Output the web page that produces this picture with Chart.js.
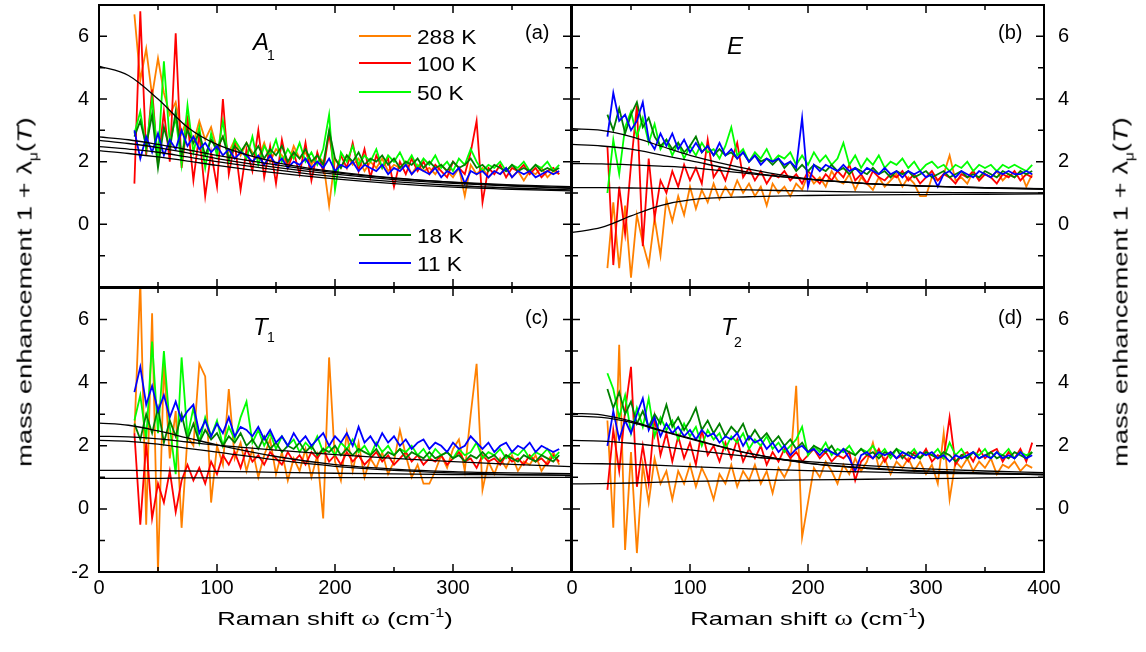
<!DOCTYPE html>
<html>
<head>
<meta charset="utf-8">
<script src="https://cdn.jsdelivr.net/npm/chart.js@4.4.0/dist/chart.umd.min.js"></script>
<style>
body { margin: 0; width: 1146px; height: 652px; overflow: hidden; position: relative; background: #fff;
       font-family: "Liberation Sans", Arial, sans-serif; color: #000; }
canvas { position: absolute; }
.lbl { position: absolute; line-height: 1; white-space: nowrap; }
.key { position: absolute; left: 359px; width: 52px; height: 0; border-top: 2px solid; }
.ktxt { position: absolute; left: 417px; font-size: 21px; line-height: 1; transform: scaleX(1.08); transform-origin: left; }
.xtitle { position: absolute; top: 608px; font-size: 19px; line-height: 1; white-space: nowrap; transform: translateX(-50%) scaleX(1.35); }
.ytitle { position: absolute; font-size: 21px; line-height: 1; white-space: nowrap; transform: translate(-50%, -50%) rotate(-90deg) scaleX(1.3); }
.sup { font-size: 12px; position: relative; top: -8px; }
.mu { font-size: 12px; position: relative; top: 6px; }
.om { font-family: "Liberation Serif", serif; font-size: 21px; }
</style>
</head>
<body>
<canvas id="pa" width="580" height="292" style="left:0;top:0"></canvas>
<canvas id="pb" width="586" height="292" style="left:560px;top:0"></canvas>
<canvas id="pc" width="580" height="372" style="left:0;top:280px"></canvas>
<canvas id="pd" width="586" height="372" style="left:560px;top:280px"></canvas>

<!-- panel names -->
<div class="lbl" style="left:253px;top:30px;font-size:24px;font-style:italic">A</div>
<div class="lbl" style="left:267px;top:48px;font-size:14px">1</div>
<div class="lbl" style="left:727px;top:34px;font-size:24px;font-style:italic">E</div>
<div class="lbl" style="left:253px;top:315px;font-size:24px;font-style:italic">T</div>
<div class="lbl" style="left:267px;top:330px;font-size:14px">1</div>
<div class="lbl" style="left:721px;top:315px;font-size:24px;font-style:italic">T</div>
<div class="lbl" style="left:734px;top:335px;font-size:14px">2</div>
<div class="lbl" style="left:525px;top:22px;font-size:20px">(a)</div>
<div class="lbl" style="left:998px;top:22px;font-size:20px">(b)</div>
<div class="lbl" style="left:525px;top:307px;font-size:20px">(c)</div>
<div class="lbl" style="left:998px;top:307px;font-size:20px">(d)</div>

<!-- axis titles -->
<div class="xtitle" style="left:335px">Raman shift <span class="om">ω</span> (cm<span class="sup">-1</span>)</div>
<div class="xtitle" style="left:808px">Raman shift <span class="om">ω</span> (cm<span class="sup">-1</span>)</div>
<div class="ytitle" style="left:24px;top:292px">mass enhancement 1 + λ<span class="mu">μ</span>(<i>T</i>)</div>
<div class="ytitle" style="left:1120px;top:292px">mass enhancement 1 + λ<span class="mu">μ</span>(<i>T</i>)</div>

<script>
// Raman shift grid of the measured spectra (cm-1)
const omega = [30,35,40,45,50,55,60,65,70,75,80,85,90,95,100,105,110,115,120,125,130,135,140,145,150,155,160,165,170,175,
    180,185,190,195,200,205,210,215,220,225,230,235,240,245,250,255,260,265,270,275,280,285,290,295,300,305,310,315,320,325,
    330,335,340,345,350,355,360,365,370,375,380,385,390];
// grid of the model curves
const fitOmega = [0, 25, 50, 75, 100, 150, 200, 250, 300, 350, 400];

const tempLabels = ["288 K", "100 K", "50 K", "18 K", "11 K"];
const lineColors = ["#ff8000", "#ff0000", "#00ff00", "#008000", "#0000ff"];
const xTickValues = [0, 100, 200, 300, 400];

// (a) A1
const a288 = [6.7,4.6,5.6,4.1,5.3,4.2,3.5,3.9,2.9,3.4, 2.6,3.3,2.7,3.1,2.4,2.8,2.3,2.7,2.2,2.6,
    2.3,2.1,2.6,2.0,2.4,2.2,1.9,2.5,2.1,2.3, 1.9,2.2,2.0,0.6,2.1,1.8,2.2,1.9,2.1,1.7,
    2.0,1.8,2.1,1.7,1.9,1.8,2.0,1.6,1.9,1.7, 1.8,1.6,1.9,1.7,1.5,1.8,0.9,1.9,1.6,1.8,
    1.5,1.7,1.6,1.8,1.5,1.7,1.4,1.7,1.6,1.8, 1.5,1.7,1.6];
const a100 = [1.3,6.8,2.2,4.3,1.9,3.6,2.0,6.1,1.8,3.3, 1.4,2.9,0.9,2.3,1.2,4.0,1.6,2.6,1.1,2.4,
    1.7,3.0,1.5,2.5,1.3,2.7,1.8,2.3,1.6,2.6, 1.4,2.3,1.7,2.9,1.6,2.2,1.8,2.6,1.7,2.4,
    1.5,2.2,1.8,2.1,1.2,2.0,1.6,2.1,1.7,2.0, 1.6,1.9,1.7,1.5,2.0,1.8,1.6,2.3,3.3,0.7,
    1.8,1.6,1.9,1.5,1.8,1.7,1.9,1.6,1.8,1.5, 1.7,1.8,1.6];
const a50 = [2.9,3.6,2.4,4.0,2.1,5.2,2.6,3.4,1.9,3.8, 2.3,3.1,1.8,2.9,2.2,3.3,2.0,2.7,2.4,2.1,
    2.8,1.9,2.5,2.2,2.7,2.0,2.4,2.1,2.6,2.0, 2.3,1.9,2.4,3.5,1.1,2.3,2.0,2.5,1.9,2.2,
    2.0,2.4,1.8,2.2,2.0,2.3,1.9,2.2,1.8,2.1, 1.9,2.2,1.8,2.0,1.7,2.1,1.9,2.4,2.0,1.7,
    1.9,1.8,2.0,1.7,1.9,1.8,2.0,1.7,1.9,1.8, 2.0,1.7,1.9];
const a18 = [2.8,3.3,2.5,3.5,1.8,3.1,2.4,3.6,2.2,3.0, 2.6,2.9,2.2,2.7,2.4,2.8,2.1,2.5,2.3,2.6,
    2.2,2.5,2.1,2.4,2.2,2.5,2.0,2.3,2.1,2.4, 2.0,2.2,1.9,3.0,2.1,1.8,2.2,2.0,2.3,1.9,
    2.1,2.0,2.2,1.9,2.1,1.8,2.0,1.9,2.1,1.8, 2.0,1.8,1.9,1.7,2.0,1.8,1.9,2.1,1.8,1.9,
    1.7,1.9,1.8,1.7,1.9,1.7,1.8,1.7,1.9,1.7, 1.8,1.7,1.8];
const a11 = [3.0,2.1,2.8,2.3,2.9,2.2,2.7,2.4,3.0,2.5, 2.8,2.4,2.6,2.3,2.5,2.2,2.4,2.1,2.3,2.2,
    2.0,2.2,1.9,2.2,1.9,2.1,1.8,2.0,1.9,2.1, 1.8,2.0,1.8,2.1,1.7,1.9,1.8,2.0,1.7,1.9,
    1.8,1.7,1.9,1.6,1.8,1.7,1.9,1.6,1.8,1.7, 1.6,1.8,1.5,1.7,1.6,1.8,1.3,1.7,1.6,1.7,
    1.5,1.7,1.6,1.8,1.5,1.7,1.6,1.7,1.5,1.6, 1.7,1.6,1.7];
const aFits = [
    [5.05,4.75,4.0,3.1,2.55,1.98,1.68,1.48,1.34,1.24,1.16],
    [2.79,2.7,2.55,2.38,2.2,1.9,1.65,1.47,1.35,1.26,1.2],
    [2.68,2.58,2.45,2.28,2.1,1.82,1.6,1.43,1.31,1.22,1.15],
    [2.48,2.4,2.3,2.15,2.0,1.74,1.52,1.36,1.24,1.16,1.1],
    [2.35,2.26,2.15,2.02,1.88,1.64,1.45,1.3,1.19,1.12,1.07]
];

// (b) E
const b288 = [-1.4,0.7,-1.4,0.6,-1.7,0.3,-0.6,-1.3,0.2,-1.0, 0.8,0.1,0.9,0.3,1.2,0.5,1.1,0.7,1.3,0.8,
    1.2,0.9,1.4,1.0,1.3,0.9,1.2,0.6,1.3,1.0, 1.2,0.9,1.3,1.1,1.6,1.3,1.5,1.2,1.7,1.4,
    1.3,1.6,1.1,1.5,1.3,1.1,1.5,1.2,1.4,1.6, 1.2,1.5,1.3,0.9,0.9,1.5,1.4,1.6,2.2,1.4,
    1.5,1.3,1.7,1.4,1.6,1.5,1.7,1.4,1.6,1.5, 1.7,1.2,1.6];
const b100 = [2.5,-1.3,1.2,-0.3,1.9,3.8,-0.7,2.1,0.2,1.4, 1.0,1.7,1.2,1.9,1.4,1.8,1.3,2.7,1.5,1.8,
    1.4,2.0,2.6,1.5,1.8,1.4,1.7,1.3,1.6,1.5, 1.7,1.4,1.6,1.3,1.7,1.5,1.3,1.6,1.4,1.7,
    1.5,1.9,1.4,1.6,1.3,1.7,1.5,1.4,1.6,1.5, 1.7,1.4,1.6,1.3,1.5,1.7,1.4,1.6,1.5,1.3,
    1.6,1.5,1.7,1.4,1.6,1.5,1.3,1.6,1.5,1.7, 1.4,1.6,1.5];
const b50 = [1.0,2.7,1.6,3.1,3.6,2.8,3.4,2.6,3.2,2.4, 2.7,2.2,2.6,2.1,2.5,2.2,2.6,2.3,2.4,2.1,
    2.5,3.1,2.2,2.4,2.0,2.3,2.1,2.4,2.0,2.2, 2.1,2.3,1.9,2.2,1.9,2.3,2.0,2.2,1.9,2.1,
    2.6,1.9,2.2,1.8,2.1,1.9,2.2,1.8,2.0,1.9, 2.1,1.8,2.0,1.7,1.9,2.0,1.8,1.9,1.7,1.9,
    1.8,2.0,1.7,1.9,1.8,1.9,1.7,1.9,1.8,1.9, 1.8,1.7,1.9];
const b18 = [3.5,3.0,3.7,2.9,3.5,3.9,3.1,3.4,2.8,2.5, 2.7,2.4,2.6,2.3,2.5,2.8,2.3,2.5,2.2,2.4,
    2.2,2.3,2.1,2.3,2.0,2.2,2.0,2.1,1.9,2.1, 1.8,2.0,1.7,1.9,1.7,1.9,1.8,1.7,1.9,1.7,
    1.8,1.6,1.8,1.7,1.6,1.8,1.6,1.7,1.5,1.7, 1.6,1.7,1.5,1.6,1.7,1.5,1.6,1.7,1.5,1.6,
    1.7,1.5,1.6,1.5,1.7,1.6,1.5,1.7,1.6,1.5, 1.7,1.6,1.7];
const b11 = [2.8,4.2,3.3,3.5,3.0,3.3,3.9,2.7,2.4,2.9, 2.5,2.9,2.4,2.7,2.3,2.6,2.3,2.5,2.2,2.6,
    2.2,2.4,2.1,2.3,2.0,2.2,1.9,2.1,2.0,2.1, 1.9,2.0,1.8,3.4,1.2,1.9,1.7,1.9,1.8,1.7,
    1.9,1.7,1.8,1.6,1.8,1.7,1.6,1.8,1.6,1.7, 1.5,1.7,1.6,1.7,1.5,1.6,1.2,1.6,1.7,1.5,
    1.7,1.6,1.5,1.7,1.6,1.5,1.7,1.6,1.7,1.6, 1.6,1.7,1.6];
const bFits = [
    [3.05,3.0,2.8,2.5,2.2,1.76,1.45,1.3,1.22,1.17,1.14],
    [2.55,2.5,2.4,2.22,2.03,1.66,1.44,1.3,1.22,1.17,1.13],
    [1.94,1.93,1.9,1.86,1.81,1.62,1.44,1.3,1.22,1.16,1.12],
    [1.17,1.17,1.16,1.15,1.13,1.1,1.06,1.03,1.02,1.01,1.0],
    [-0.26,-0.1,0.27,0.6,0.78,0.88,0.92,0.94,0.95,0.96,0.97]
];

// (c) T1
const c288 = [2.4,7.2,-0.5,6.2,-2.0,4.6,1.6,3.1,-0.6,2.3, 2.0,4.6,4.2,0.2,2.0,1.4,3.8,1.6,2.1,1.2,
    1.9,1.0,1.7,2.2,1.1,1.8,0.9,1.6,1.2,1.9, 1.0,1.7,-0.3,4.8,1.5,0.9,2.4,1.2,2.1,1.0,
    1.6,1.3,1.8,1.1,1.5,2.5,1.7,1.0,1.4,0.8, 0.8,1.2,1.7,1.3,1.9,2.2,1.2,3.0,4.6,0.6,
    1.5,1.1,1.6,1.3,1.7,1.2,1.5,1.4,1.7,1.2, 1.5,1.8,1.4];
const c100 = [2.4,-0.5,2.1,-0.3,0.8,0.2,1.2,-0.1,0.9,1.4, 0.9,1.3,0.8,1.5,1.1,1.7,1.4,1.8,1.3,1.9,
    1.5,1.7,1.4,1.8,1.6,1.4,1.8,1.5,1.7,1.4, 1.8,1.6,1.9,1.5,1.7,1.4,1.8,1.5,1.7,1.4,
    1.6,1.8,1.5,1.7,1.4,1.6,1.8,1.5,1.7,1.4, 1.6,1.5,1.7,1.4,1.6,1.8,1.5,1.6,1.3,1.7,
    1.5,1.6,1.4,1.7,1.5,1.6,1.4,1.7,1.5,1.6, 1.4,1.7,1.5];
const c50 = [2.8,3.6,2.2,5.3,2.4,5.0,2.6,1.1,4.8,2.3, 3.2,2.1,2.9,2.3,2.8,2.0,2.6,2.2,2.9,3.4,
    2.1,2.5,2.0,2.4,1.9,2.3,2.0,2.2,1.8,2.1, 1.9,2.3,1.8,2.0,1.7,2.1,1.9,2.2,1.8,2.0,
    1.7,2.1,1.8,2.0,1.7,1.9,1.8,2.0,1.7,1.9, 1.6,1.9,1.7,1.8,1.6,1.9,1.7,1.8,2.1,1.6,
    1.8,1.7,1.9,1.6,1.8,1.7,1.9,1.6,1.8,1.7, 1.9,1.6,1.8];
const c18 = [2.7,2.2,3.0,2.4,3.2,2.1,2.8,2.3,3.0,2.2, 2.7,2.1,2.5,2.2,2.4,2.0,2.3,2.1,2.4,2.0,
    2.2,1.9,2.3,1.9,2.1,1.8,2.0,1.9,2.1,1.8, 2.0,1.7,1.9,1.8,2.0,1.7,1.9,1.7,1.9,1.8,
    1.7,1.9,1.6,1.8,1.7,1.9,1.6,1.8,1.7,1.6, 1.8,1.6,1.7,1.8,1.6,1.7,1.5,1.7,1.6,1.8,
    1.6,1.7,1.5,1.7,1.6,1.5,1.7,1.6,1.5,1.7, 1.6,1.5,1.7];
const c11 = [3.7,4.5,3.3,3.9,3.1,3.6,2.9,3.4,2.8,3.1, 3.3,2.4,2.8,2.3,2.7,2.4,2.9,2.3,2.6,2.5,
    2.3,2.6,2.2,2.5,2.1,2.3,2.0,2.4,2.1,2.3, 2.0,2.2,2.4,2.0,2.3,2.1,2.4,2.0,2.6,2.1,
    2.3,2.0,2.4,2.1,2.3,2.0,2.2,1.9,2.1,2.2, 1.9,2.1,2.0,1.8,2.1,1.9,2.0,2.3,2.1,1.9,
    2.1,1.8,2.0,2.1,1.8,2.0,1.9,2.1,1.8,2.0, 1.9,1.8,1.9];
const cFits = [
    [2.72,2.65,2.47,2.25,2.03,1.66,1.4,1.26,1.18,1.14,1.12],
    [2.3,2.28,2.22,2.12,2.02,1.86,1.72,1.6,1.5,1.41,1.34],
    [2.17,2.14,2.05,1.92,1.8,1.55,1.35,1.22,1.14,1.09,1.06],
    [1.22,1.22,1.21,1.2,1.19,1.16,1.13,1.11,1.09,1.08,1.07],
    [0.97,0.97,0.97,0.98,0.98,0.98,0.99,0.99,0.99,1.0,1.0]
];

// (d) T2
const d288 = [2.8,-0.6,5.2,-1.3,1.8,-1.4,1.4,0.2,1.6,0.8, 1.2,0.3,1.2,0.8,1.4,0.7,1.3,0.9,0.3,1.1,
    0.8,1.4,0.7,1.2,0.9,1.4,0.8,1.2,0.5,1.3, 1.0,1.4,3.9,-0.9,0.2,1.3,1.0,1.5,1.2,0.8,
    1.4,1.1,1.6,1.2,1.5,2.1,1.3,1.6,1.1,1.5, 1.3,1.6,1.2,1.5,1.1,1.4,0.8,2.4,0.3,1.5,
    1.3,1.6,1.2,1.5,1.3,1.6,1.1,1.4,1.3,1.5, 1.2,1.4,1.3];
const d100 = [0.6,2.5,1.2,3.1,4.5,0.7,2.0,0.8,2.9,1.7, 2.4,1.5,2.3,1.6,2.1,1.4,2.5,1.7,2.0,1.5,
    2.1,1.6,2.2,1.5,1.9,1.6,2.0,1.4,1.8,1.5, 1.9,1.6,1.8,1.5,1.7,1.9,1.6,1.8,1.5,1.7,
    1.6,1.8,0.9,1.5,1.7,1.6,1.9,1.5,1.8,1.6, 1.7,1.5,1.8,1.6,1.9,1.5,1.7,1.6,2.9,1.4,
    1.7,1.8,1.5,1.9,1.6,1.8,1.9,1.5,1.8,1.6, 1.9,1.5,2.1];
const d50 = [4.3,3.8,2.9,3.6,2.4,3.2,2.6,3.5,2.3,2.9, 2.5,2.8,2.2,2.7,2.3,2.6,2.0,2.5,2.2,2.4,
    1.9,2.3,2.1,2.4,1.9,2.2,2.0,2.3,1.9,2.1, 1.8,2.0,2.2,2.6,1.7,2.0,1.8,2.1,1.7,1.9,
    1.8,2.0,1.7,1.9,1.8,2.0,1.7,1.9,1.6,1.9, 1.8,1.7,1.9,1.6,1.8,1.7,1.9,1.6,2.1,1.7,
    1.9,1.6,1.8,1.7,1.9,1.6,1.8,1.7,1.9,1.6, 1.8,1.7,1.8];
const d18 = [3.8,3.2,3.7,3.0,3.4,2.7,3.1,2.6,3.0,2.7, 3.3,2.6,2.9,2.5,2.8,3.2,2.5,2.8,2.4,2.7,
    2.3,2.6,2.4,2.7,2.2,2.5,2.2,2.4,2.1,2.3, 2.0,2.2,1.9,2.1,1.8,2.0,1.9,1.8,2.0,1.7,
    1.9,1.8,1.7,1.9,1.7,1.8,1.6,1.8,1.7,1.9, 1.6,1.8,1.7,1.6,1.8,1.7,1.6,1.8,1.7,1.5,
    1.7,1.6,1.8,1.6,1.7,1.8,1.6,1.7,1.6,1.8, 1.7,1.6,1.8];
const d11 = [2.0,3.1,2.2,2.8,2.4,3.0,3.5,2.5,2.9,2.3, 2.7,2.4,2.6,2.3,2.5,2.2,2.5,2.3,2.4,2.1,
    2.3,2.2,2.4,2.0,2.3,2.1,2.2,1.9,2.1,1.8, 2.0,1.7,1.9,2.0,1.8,1.9,1.7,1.9,1.8,1.7,
    1.9,1.6,1.2,1.7,1.8,1.6,1.8,1.7,1.8,1.6, 1.8,1.7,1.6,1.8,1.7,1.8,1.6,1.7,1.5,1.7,
    1.6,1.7,1.8,1.6,1.7,1.6,1.8,1.6,1.7,1.6, 1.8,1.6,1.7];
const dFits = [
    [3.03,2.98,2.78,2.5,2.24,1.76,1.44,1.28,1.18,1.12,1.08],
    [2.94,2.9,2.74,2.48,2.22,1.76,1.45,1.3,1.2,1.14,1.1],
    [2.17,2.15,2.08,1.98,1.87,1.66,1.5,1.37,1.27,1.2,1.15],
    [1.44,1.43,1.41,1.38,1.34,1.27,1.21,1.17,1.13,1.11,1.09],
    [0.79,0.8,0.82,0.85,0.87,0.9,0.92,0.94,0.96,0.98,1.0]
];

document.addEventListener("DOMContentLoaded", function () {
    Chart.defaults.font.family = '"Liberation Sans", Arial, sans-serif';
    Chart.defaults.color = "#000";

    // box with inward ticks on all four sides
    const framePlugin = {
        id: "frame",
        afterDatasetsDraw(chart) {
            const ctx = chart.ctx, a = chart.chartArea, x = chart.scales.x, y = chart.scales.y;
            ctx.save();
            ctx.strokeStyle = "#000";
            ctx.lineWidth = 1.5;
            ctx.beginPath();
            for (let v = 50; v < 400; v += 50) {
                const px = x.getPixelForValue(v), len = v % 100 ? 5 : 8;
                ctx.moveTo(px, a.bottom); ctx.lineTo(px, a.bottom - len);
                ctx.moveTo(px, a.top); ctx.lineTo(px, a.top + len);
            }
            for (let v = -1; v < 7; v++) {
                const py = y.getPixelForValue(v), len = v % 2 ? 6 : 8;
                ctx.moveTo(a.left, py); ctx.lineTo(a.left + len, py);
                ctx.moveTo(a.right, py); ctx.lineTo(a.right - len, py);
            }
            ctx.stroke();
            ctx.lineWidth = 2;
            ctx.strokeRect(a.left, a.top, a.right - a.left, a.bottom - a.top);
            ctx.restore();
        }
    };

    function zeroPad(s) {
        s.paddingLeft = 0; s.paddingRight = 0; s.paddingTop = 0; s.paddingBottom = 0;
    }

    function makePanel(id, temps, fits, p) {
        const datasets = [];
        fits.forEach(function (f) {
            datasets.push({
                data: fitOmega.map((w, i) => ({ x: w, y: f[i] })),
                borderColor: "#000", borderWidth: 1.3, cubicInterpolationMode: "monotone",
                pointRadius: 0, clip: 0, order: 0
            });
        });
        temps.forEach(function (vals, k) {
            datasets.push({
                label: tempLabels[k],
                data: omega.map((w, i) => ({ x: w, y: vals[i] })),
                borderColor: lineColors[k], borderWidth: 1.8, tension: 0,
                pointRadius: 0, clip: 0, order: 5 - k
            });
        });

        const canvas = document.getElementById(id);
        const W = canvas.width, H = canvas.height, a = p.area;
        const left = p.side === "left";

        new Chart(canvas, {
            type: "line",
            data: { datasets: datasets },
            options: {
                responsive: false,
                animation: false,
                events: [],
                layout: { padding: { left: left ? 0 : a.l, right: left ? W - a.r : 0, top: a.t, bottom: 0 } },
                plugins: { legend: { display: false }, tooltip: { enabled: false } },
                scales: {
                    x: {
                        type: "linear", min: 0, max: 400,
                        grid: { display: false, drawTicks: false },
                        border: { display: false },
                        afterBuildTicks: s => { s.ticks = xTickValues.map(v => ({ value: v })); },
                        ticks: {
                            display: p.xLabels.length > 0, autoSkip: false, maxRotation: 0,
                            padding: 4, font: { size: 20 },
                            callback: v => p.xLabels.includes(v) ? String(v) : ""
                        },
                        afterFit: s => { s.height = H - a.b; zeroPad(s); }
                    },
                    y: {
                        type: "linear", position: p.side, min: -2, max: 7,
                        grid: { display: false, drawTicks: false },
                        border: { display: false },
                        afterBuildTicks: s => { s.ticks = p.yLabels.map(v => ({ value: v })); },
                        ticks: { padding: left ? 10 : 14, font: { size: 20 } },
                        afterFit: s => { s.width = left ? a.l : W - a.r; zeroPad(s); }
                    }
                }
            },
            plugins: [framePlugin]
        });
    }

    makePanel("pa", [a288, a100, a50, a18, a11], aFits,
        { side: "left", area: { l: 99, t: 5, r: 571, b: 287 }, yLabels: [0, 2, 4, 6], xLabels: [] });
    makePanel("pb", [b288, b100, b50, b18, b11], bFits,
        { side: "right", area: { l: 12, t: 5, r: 484, b: 287 }, yLabels: [0, 2, 4, 6], xLabels: [] });
    makePanel("pc", [c288, c100, c50, c18, c11], cFits,
        { side: "left", area: { l: 99, t: 8, r: 571, b: 292 }, yLabels: [-2, 0, 2, 4, 6], xLabels: [0, 100, 200, 300] });
    makePanel("pd", [d288, d100, d50, d18, d11], dFits,
        { side: "right", area: { l: 12, t: 8, r: 484, b: 292 }, yLabels: [0, 2, 4, 6], xLabels: [0, 100, 200, 300, 400] });

    // legend of panel (a): three rows on top, two lower down
    const rowCentres = [36, 63, 92, 235, 263];
    tempLabels.forEach(function (t, k) {
        const line = document.createElement("div");
        line.className = "key";
        line.style.top = (rowCentres[k] - 1) + "px";
        line.style.borderColor = lineColors[k];
        document.body.appendChild(line);
        const txt = document.createElement("div");
        txt.className = "ktxt";
        txt.style.top = (rowCentres[k] - 10) + "px";
        txt.textContent = t;
        document.body.appendChild(txt);
    });
});
</script>
</body>
</html>
